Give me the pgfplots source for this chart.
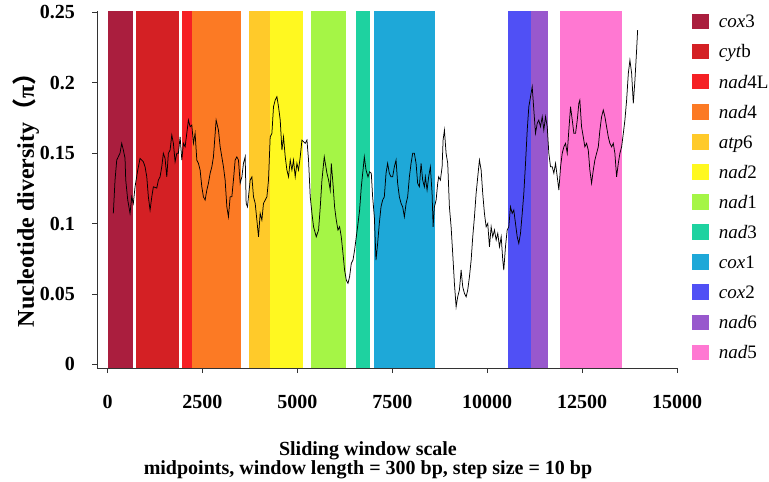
\documentclass[border=0pt]{standalone}
\usepackage{fontspec}
\setmainfont{Liberation Serif}
\newfontfamily\cjk{Noto Sans CJK SC}
\usepackage{pgfplots}
\pgfplotsset{compat=1.18}
\definecolor{gcoxiii}{HTML}{AA1E3E}
\definecolor{gcytb}{HTML}{D42024}
\definecolor{gnadivl}{HTML}{F52024}
\definecolor{gnadiv}{HTML}{FC7A24}
\definecolor{gatpvi}{HTML}{FFCA2A}
\definecolor{gnadii}{HTML}{FFF820}
\definecolor{gnadi}{HTML}{A5F546}
\definecolor{gnadiii}{HTML}{1ED2A0}
\definecolor{gcoxi}{HTML}{1EA8D8}
\definecolor{gcoxii}{HTML}{5050F5}
\definecolor{gnadvi}{HTML}{9858CD}
\definecolor{gnadv}{HTML}{FF78D2}
\pgfplotstableread{
x y
153 0.1072
198 0.1309
243 0.1451
330 0.1501
374 0.1570
417 0.1522
461 0.1465
480 0.1309
533 0.1167
593 0.1072
638 0.1190
680 0.1143
725 0.1261
796 0.1380
857 0.1463
944 0.1439
989 0.1403
1034 0.1332
1076 0.1190
1121 0.1096
1166 0.1190
1208 0.1261
1297 0.1252
1340 0.1309
1384 0.1332
1429 0.1403
1471 0.1499
1516 0.1463
1561 0.1332
1603 0.1499
1648 0.1522
1693 0.1629
1735 0.1570
1780 0.1439
1825 0.1499
1867 0.1499
1912 0.1616
1957 0.1451
1999 0.1570
2044 0.1545
2088 0.1641
2131 0.1735
2176 0.1688
2220 0.1700
2263 0.1570
2307 0.1641
2352 0.1451
2394 0.1428
2439 0.1380
2484 0.1261
2526 0.1190
2571 0.1167
2616 0.1238
2658 0.1286
2703 0.1357
2748 0.1403
2790 0.1474
2861 0.1735
2922 0.1664
2967 0.1545
3054 0.1403
3098 0.1309
3143 0.1119
3185 0.1048
3230 0.1190
3275 0.1190
3317 0.1309
3362 0.1451
3407 0.1474
3449 0.1451
3494 0.1286
3539 0.1332
3581 0.1428
3626 0.1474
3652 0.1143
3687 0.1119
3713 0.1190
3758 0.1309
3803 0.1332
3845 0.1190
3890 0.1143
3934 0.1025
3977 0.0906
4021 0.1072
4066 0.1025
4108 0.1143
4153 0.1167
4198 0.1190
4240 0.1309
4285 0.1616
4330 0.1641
4372 0.1830
4417 0.1877
4462 0.1901
4504 0.1830
4549 0.1735
4594 0.1522
4636 0.1616
4681 0.1474
4725 0.1380
4768 0.1332
4813 0.1451
4857 0.1380
4899 0.1451
4944 0.1332
4989 0.1428
5031 0.1380
5076 0.1474
5121 0.1593
5208 0.1570
5253 0.1593
5295 0.1451
5340 0.1190
5385 0.1072
5427 0.0977
5498 0.0906
5559 0.0954
5604 0.1119
5648 0.1309
5709 0.1474
5780 0.1357
5823 0.1309
5867 0.1238
5894 0.1428
5938 0.1286
5981 0.1119
6025 0.1025
6070 0.0954
6113 0.0977
6157 0.0906
6202 0.0788
6244 0.0670
6289 0.0599
6334 0.0575
6376 0.0622
6421 0.0717
6466 0.0741
6508 0.0812
6553 0.0906
6598 0.1001
6640 0.1096
6685 0.1261
6730 0.1380
6764 0.1474
6809 0.1380
6861 0.1332
6904 0.1368
6948 0.1357
6983 0.1190
7028 0.1048
7072 0.0741
7115 0.0859
7159 0.1001
7204 0.1119
7247 0.1167
7291 0.1190
7336 0.1357
7378 0.1428
7423 0.1357
7468 0.1332
7510 0.1332
7555 0.1403
7600 0.1451
7642 0.1286
7687 0.1190
7732 0.1143
7774 0.1119
7819 0.1048
7864 0.1143
7906 0.1190
7951 0.1332
7995 0.1428
8038 0.1499
8082 0.1499
8127 0.1428
8169 0.1286
8214 0.1261
8259 0.1428
8301 0.1309
8346 0.1261
8372 0.1332
8417 0.1238
8459 0.1332
8504 0.1403
8549 0.1214
8576 0.0977
8610 0.1119
8655 0.1167
8697 0.1286
8723 0.1332
8768 0.1309
8813 0.1403
8839 0.1593
8874 0.1664
8918 0.1499
8961 0.1428
9005 0.1119
9050 0.0977
9092 0.0788
9137 0.0575
9182 0.0409
9224 0.0480
9269 0.0528
9314 0.0670
9356 0.0551
9401 0.0504
9446 0.0480
9488 0.0528
9533 0.0622
9578 0.0741
9620 0.0906
9665 0.1048
9709 0.1214
9752 0.1332
9796 0.1451
9841 0.1380
9883 0.1214
9928 0.1072
9973 0.0977
10015 0.1001
10060 0.0835
10105 0.0977
10147 0.0906
10192 0.0954
10237 0.0883
10279 0.0930
10324 0.0835
10369 0.0906
10411 0.0741
10437 0.0670
10482 0.0835
10527 0.0954
10569 0.0977
10614 0.1119
10659 0.1072
10701 0.1096
10746 0.1001
10791 0.0906
10833 0.0859
10878 0.0930
10923 0.1072
10965 0.1214
11010 0.1428
11055 0.1664
11097 0.1830
11142 0.1901
11186 0.1972
11229 0.1806
11273 0.1641
11318 0.1712
11360 0.1735
11405 0.1688
11450 0.1759
11492 0.1664
11537 0.1759
11582 0.1688
11624 0.1499
11669 0.1403
11714 0.1403
11756 0.1357
11801 0.1428
11846 0.1332
11888 0.1238
11933 0.1403
11977 0.1499
12020 0.1545
12064 0.1570
12109 0.1499
12151 0.1664
12196 0.1830
12241 0.1735
12283 0.1641
12328 0.1641
12373 0.1735
12415 0.1854
12441 0.1877
12486 0.1688
12531 0.1616
12573 0.1545
12618 0.1570
12663 0.1522
12705 0.1380
12750 0.1286
12795 0.1380
12837 0.1451
12882 0.1499
12927 0.1545
12969 0.1664
13014 0.1759
13058 0.1806
13101 0.1759
13145 0.1688
13190 0.1616
13232 0.1570
13277 0.1545
13322 0.1570
13364 0.1499
13409 0.1332
13454 0.1428
13496 0.1499
13541 0.1545
13586 0.1641
13628 0.1735
13673 0.1877
13718 0.2067
13760 0.2161
13805 0.2067
13849 0.1854
13892 0.2019
13936 0.2232
13963 0.2374
}\pidata
\begin{document}
\begin{tikzpicture}
\useasboundingbox (0,0) rectangle (769pt,482pt);
\begin{axis}[
  at={(97pt,114pt)}, anchor=south west,
  scale only axis, width=580pt, height=357pt,
  xmin=-277, xmax=15000, ymin=-0.0026, ymax=0.251,
  axis x line*=bottom, axis y line*=left,
  axis on top,
  axis line style={line width=0.9pt, black!80, -},
  tick align=outside, major tick length=5pt,
  tick style={line width=0.9pt, black!80},
  scaled x ticks=false, scaled y ticks=false,
  xtick={0,2500,5000,7500,10000,12500,15000},
  xticklabels={0,2500,5000,7500,10000,12500,15000},
  ytick={0,0.05,0.1,0.15,0.2,0.25},
  yticklabels={0,0.05,0.1,0.15,0.2,0.25},
  ticklabel style={font=\bfseries\fontsize{20}{24}\selectfont, inner sep=0pt},
  xticklabel style={yshift=-22pt},
  yticklabel style={xshift=-17pt},
  xlabel={Sliding window scale\\midpoints, window length = 300 bp, step size = 10 bp},
  xlabel style={at={(axis description cs:0.4672,0)}, anchor=north, yshift=-73pt,
    align=center, font=\bfseries\fontsize{20}{19.5}\selectfont, inner sep=0pt},
  ylabel={Nucleotide diversity{\cjk （}π{\cjk ）}},
  ylabel style={at={(axis description cs:-0.1224,0.487)}, anchor=center,
    font=\bfseries\fontsize{24}{28}\selectfont, inner sep=0pt},
  legend image code/.code={\fill[#1] (0pt,-1.4pt) rectangle (17pt,14.3pt); \path (27pt,0pt);},
  legend style={at={(axis description cs:1.02534,0.99398)}, anchor=north west,
    draw=none, fill=none, inner sep=0pt, row sep=11.6pt,
    nodes={inner sep=0pt, text height=14.5pt, text depth=4pt,
      font=\fontsize{19}{22}\selectfont, anchor=base west}},
  legend cell align=left,
]
\addplot[fill=gcoxiii, draw=none] coordinates {(13,-0.0026) (13,0.251) (680,0.251) (680,-0.0026)};
\addlegendentry{\textit{cox}3}
\addplot[fill=gcytb, draw=none] coordinates {(744,-0.0026) (744,0.251) (1893,0.251) (1893,-0.0026)};
\addlegendentry{\textit{cyt}b}
\addplot[fill=gnadivl, draw=none] coordinates {(1957,-0.0026) (1957,0.251) (2228,0.251) (2228,-0.0026)};
\addlegendentry{\textit{nad}4L}
\addplot[fill=gnadiv, draw=none] coordinates {(2228,-0.0026) (2228,0.251) (3528,0.251) (3528,-0.0026)};
\addlegendentry{\textit{nad}4}
\addplot[fill=gatpvi, draw=none] coordinates {(3739,-0.0026) (3739,0.251) (4285,0.251) (4285,-0.0026)};
\addlegendentry{\textit{atp}6}
\addplot[fill=gnadii, draw=none] coordinates {(4285,-0.0026) (4285,0.251) (5148,0.251) (5148,-0.0026)};
\addlegendentry{\textit{nad}2}
\addplot[fill=gnadi, draw=none] coordinates {(5359,-0.0026) (5359,0.251) (6290,0.251) (6290,-0.0026)};
\addlegendentry{\textit{nad}1}
\addplot[fill=gnadiii, draw=none] coordinates {(6545,-0.0026) (6545,0.251) (6904,0.251) (6904,-0.0026)};
\addlegendentry{\textit{nad}3}
\addplot[fill=gcoxi, draw=none] coordinates {(7028,-0.0026) (7028,0.251) (8618,0.251) (8618,-0.0026)};
\addlegendentry{\textit{cox}1}
\addplot[fill=gcoxii, draw=none] coordinates {(10543,-0.0026) (10543,0.251) (11142,0.251) (11142,-0.0026)};
\addlegendentry{\textit{cox}2}
\addplot[fill=gnadvi, draw=none] coordinates {(11142,-0.0026) (11142,0.251) (11598,0.251) (11598,-0.0026)};
\addlegendentry{\textit{nad}6}
\addplot[fill=gnadv, draw=none] coordinates {(11925,-0.0026) (11925,0.251) (13560,0.251) (13560,-0.0026)};
\addlegendentry{\textit{nad}5}
\addplot[forget plot, black, line width=0.75pt] table[x=x, y=y] {\pidata};
\end{axis}
\end{tikzpicture}
\end{document}
